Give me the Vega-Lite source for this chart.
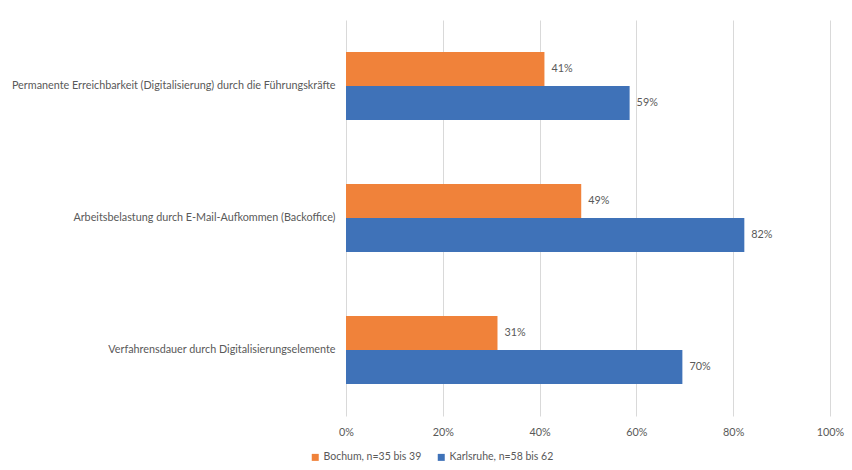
{
  "$schema": "https://vega.github.io/schema/vega-lite/v6.json",
  "width": 484,
  "height": 396,
  "autosize": {"type": "none"},
  "padding": {"left": 346, "top": 20, "right": 22, "bottom": 54},
  "config": {"view": {"stroke": null}, "font": "Lato"},
  "data": {
    "values": [
      {"item": "Permanente Erreichbarkeit (Digitalisierung) durch die Führungskräfte", "city": "Bochum, n=35 bis 39", "value": 0.41},
      {"item": "Permanente Erreichbarkeit (Digitalisierung) durch die Führungskräfte", "city": "Karlsruhe, n=58 bis 62", "value": 0.586},
      {"item": "Arbeitsbelastung durch E-Mail-Aufkommen (Backoffice)", "city": "Bochum, n=35 bis 39", "value": 0.486},
      {"item": "Arbeitsbelastung durch E-Mail-Aufkommen (Backoffice)", "city": "Karlsruhe, n=58 bis 62", "value": 0.823},
      {"item": "Verfahrensdauer durch Digitalisierungselemente", "city": "Bochum, n=35 bis 39", "value": 0.313},
      {"item": "Verfahrensdauer durch Digitalisierungselemente", "city": "Karlsruhe, n=58 bis 62", "value": 0.695}
    ]
  },
  "encoding": {
    "y": {
      "field": "item",
      "type": "nominal",
      "sort": ["Permanente Erreichbarkeit (Digitalisierung) durch die Führungskräfte", "Arbeitsbelastung durch E-Mail-Aufkommen (Backoffice)", "Verfahrensdauer durch Digitalisierungselemente"],
      "scale": {"paddingInner": 0.485, "paddingOuter": 0.2425},
      "axis": {"title": null, "ticks": false, "domain": false, "labelPadding": 11, "labelFontSize": 10.8, "labelColor": "#595959", "labelLimit": 400}
    },
    "yOffset": {
      "field": "city",
      "type": "nominal",
      "sort": ["Bochum, n=35 bis 39", "Karlsruhe, n=58 bis 62"],
      "scale": {"paddingInner": 0, "paddingOuter": 0}
    },
    "x": {
      "field": "value",
      "type": "quantitative",
      "scale": {"domain": [0, 1]},
      "axis": {"title": null, "format": ".0%", "values": [0, 0.2, 0.4, 0.6, 0.8, 1], "domain": false, "ticks": false, "labelFlush": false, "labelPadding": 10, "labelFontSize": 10.8, "labelColor": "#595959", "gridColor": "#d9d9d9", "gridWidth": 1}
    }
  },
  "layer": [
    {
      "mark": {"type": "bar"},
      "encoding": {
        "color": {
          "field": "city",
          "type": "nominal",
          "sort": ["Bochum, n=35 bis 39", "Karlsruhe, n=58 bis 62"],
          "scale": {"range": ["#F0823A", "#3F72B8"]},
          "legend": {"title": null, "orient": "none", "direction": "horizontal", "legendX": -36, "legendY": 432, "symbolType": "square", "symbolSize": 49, "symbolStrokeWidth": 0, "labelFontSize": 10.5, "labelColor": "#595959", "columnPadding": 14, "labelOffset": 3, "padding": 0}
        }
      }
    },
    {
      "mark": {"type": "text", "align": "left", "baseline": "middle", "dx": 7, "fontSize": 10.8, "color": "#595959"},
      "encoding": {"text": {"field": "value", "type": "quantitative", "format": ".0%"}}
    }
  ]
}
